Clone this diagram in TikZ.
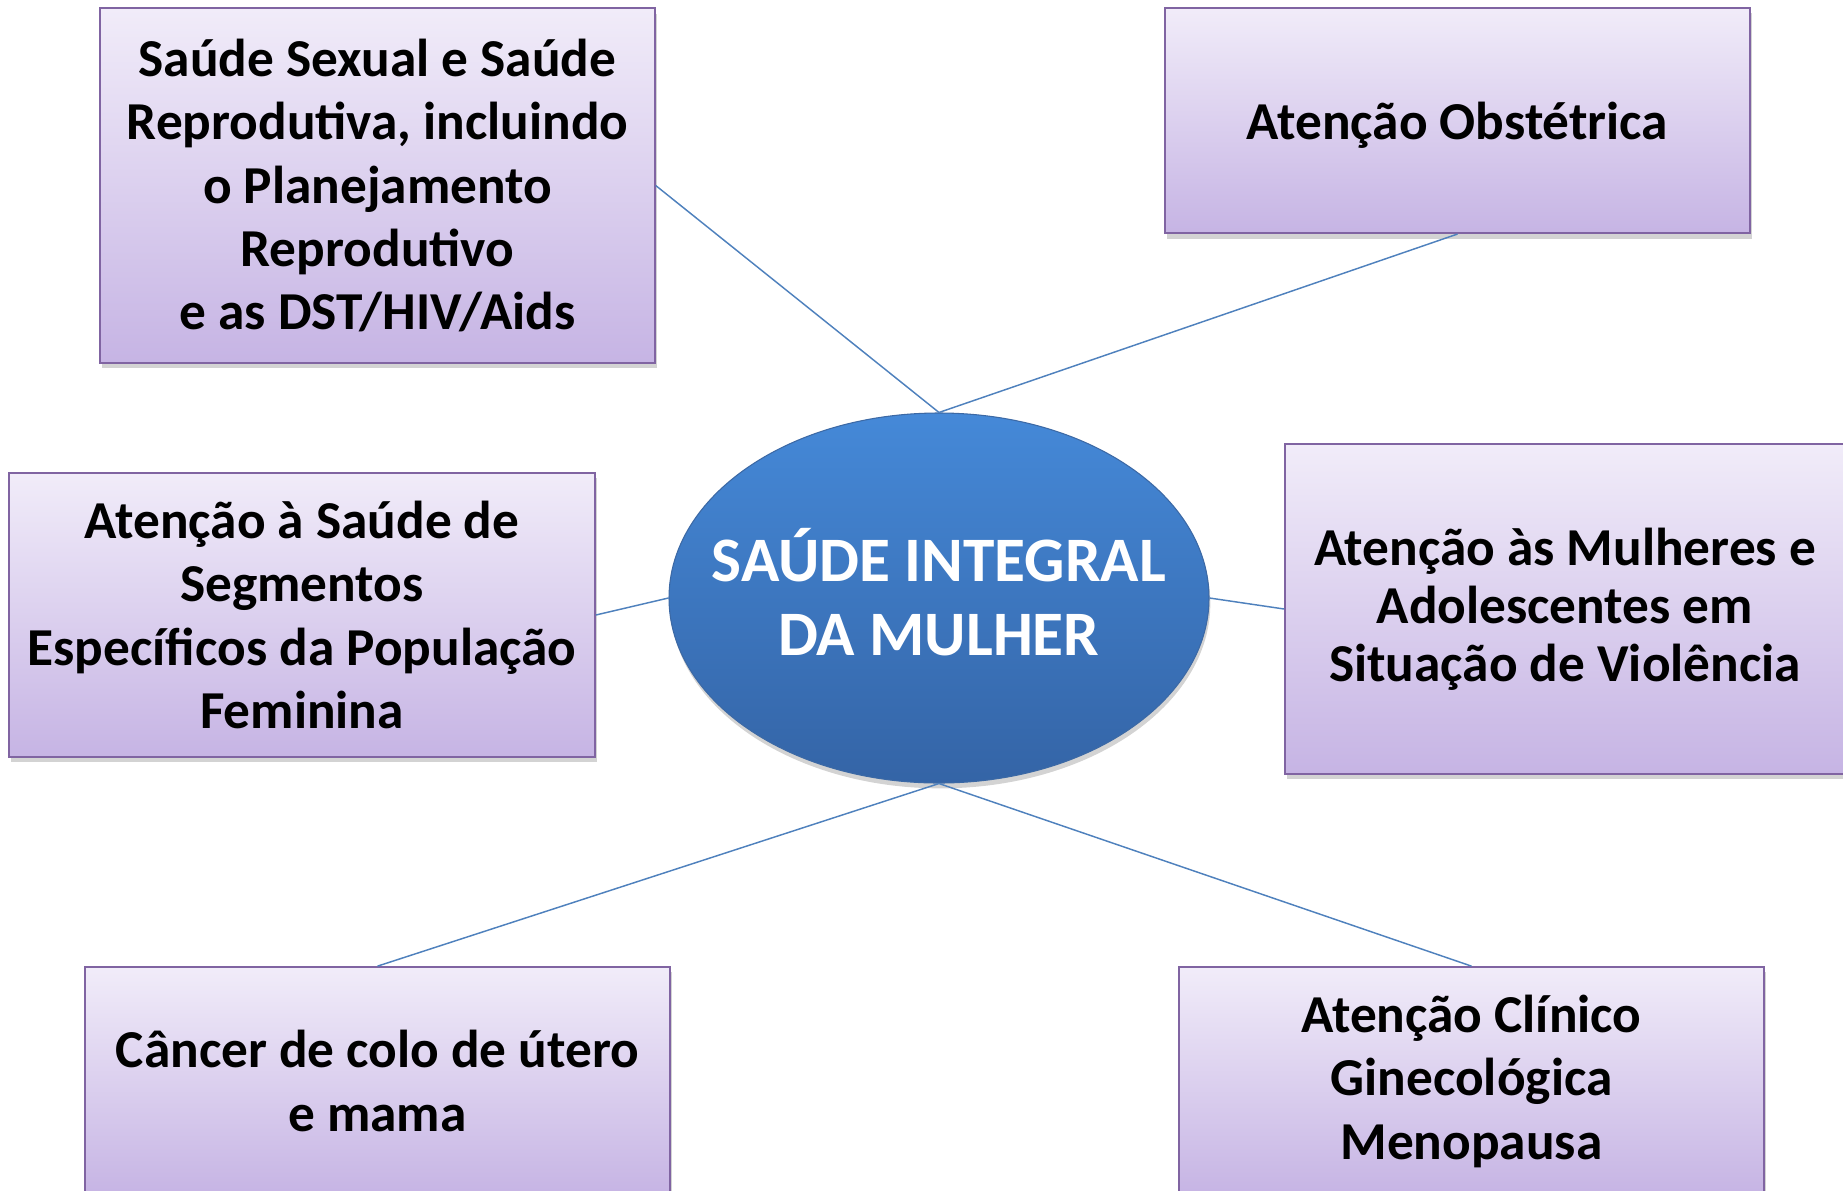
\documentclass[tikz,border=0pt]{standalone}
\usepackage{fontspec}
\setmainfont{Carlito}
\usetikzlibrary{shapes.geometric,shadows}
\definecolor{boxtop}{RGB}{241,236,249}
\definecolor{boxbot}{RGB}{198,180,228}
\definecolor{boxline}{RGB}{128,100,162}
\definecolor{coretop}{RGB}{69,137,216}
\definecolor{corebot}{RGB}{52,100,166}
\definecolor{coreline}{RGB}{60,105,165}
\definecolor{linkcol}{RGB}{79,129,189}
\tikzset{
  box/.style={draw=boxline, line width=1.3pt, top color=boxtop, bottom color=boxbot,
    align=center, inner sep=0pt, font=\fontsize{40}{47.6}\selectfont\bfseries,
    drop shadow={shadow xshift=1.5pt, shadow yshift=-4pt, opacity=0.35}},
  core/.style={ellipse, draw=coreline, line width=0.8pt, top color=coretop, bottom color=corebot,
    inner sep=0pt, minimum width=405pt, minimum height=277.5pt,
    drop shadow={shadow xshift=1pt, shadow yshift=-4pt, opacity=0.35}},
  coretext/.style={align=center, inner sep=0pt, text=white, font=\fontsize{47.5}{56}\selectfont\bfseries}
}
\begin{document}
\begin{tikzpicture}[x=0.75pt, y=-0.75pt]
    \useasboundingbox (0,0) rectangle (1843,1190);
    \node[core] (core) at (939,598) {};
    \node[coretext] (corelabel) at (939,592) {SAÚDE INTEGRAL\\DA MULHER};
    \node[box, minimum width=416pt, minimum height=266pt] (sexual) at (377.5,185.5)
        {Saúde Sexual e Saúde\\Reprodutiva, incluindo\\o Planejamento\\ Reprodutivo\\ e as DST/HIV/Aids};
    \node[box, minimum width=439pt, minimum height=169pt] (obst) at (1457.5,120.5)
        {\raisebox{-3.5pt}[\height][\depth]{Atenção Obstétrica}};
    \node[box, minimum width=439.5pt, minimum height=213pt] (segm) at (302,615)
        {Atenção à Saúde de\\Segmentos\\Específicos da População\\Feminina};
    \node[box, minimum width=420pt, minimum height=247pt, font=\fontsize{40}{43.5}\selectfont\bfseries] (viol) at (1565,609)
        {Atenção às Mulheres e\\Adolescentes em\\Situação de Violência};
    \node[box, minimum width=439pt, minimum height=171pt] (cancer) at (377.5,1081)
        {Câncer de colo de útero\\e mama};
    \node[box, minimum width=439pt, minimum height=171pt] (gineco) at (1471.5,1081)
        {Atenção Clínico\\Ginecológica\\Menopausa};
    \draw[draw=linkcol, line width=1.1pt] (sexual.east) -- (core.north);
    \draw[draw=linkcol, line width=1.1pt] (obst.south) -- (core.north);
    \draw[draw=linkcol, line width=1.1pt] (segm.east) -- (core.west);
    \draw[draw=linkcol, line width=1.1pt] (viol.west) -- (core.east);
    \draw[draw=linkcol, line width=1.1pt] (core.south) -- (cancer.north);
    \draw[draw=linkcol, line width=1.1pt] (core.south) -- (gineco.north);
\end{tikzpicture}
\end{document}
